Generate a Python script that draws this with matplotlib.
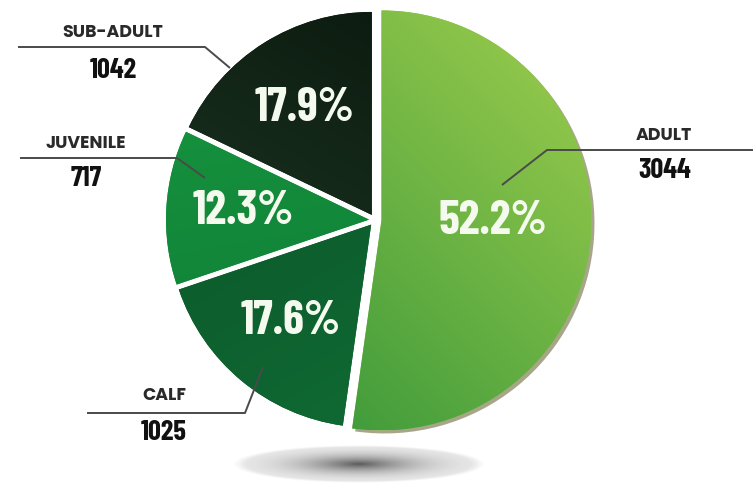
import numpy as np
import matplotlib
matplotlib.use("Agg")
import matplotlib.pyplot as plt
from matplotlib.patches import Wedge
from matplotlib.colors import to_rgb

# Population by age class
categories = ["ADULT", "CALF", "JUVENILE", "SUB-ADULT"]
counts = [3044, 1025, 717, 1042]

# Two-stop gradient for each slice (light end, dark end) and gradient direction (deg)
light_colors = ["#8ec54a", "#0b552a", "#17963f", "#0b1a0f"]
dark_colors = ["#3a983a", "#106b33", "#0e7a35", "#1e3824"]
grad_angles = [45, 120, 100, 60]

W, H = 753, 484
fig = plt.figure(figsize=(W / 100, H / 100), dpi=100)
ax = fig.add_axes([0, 0, 1, 1])


def py(y):
    """Convert a top-down pixel row into the axes' y coordinate."""
    return H - y


CENTER = (375, py(220))
R = 203

wedges, texts, autotexts = ax.pie(
    counts,
    explode=[6.5, 6, 6, 6],
    startangle=90,
    counterclock=False,
    radius=R,
    center=CENTER,
    colors=light_colors,
    autopct="%1.1f%%",
    pctdistance=0.65,
    wedgeprops=dict(linewidth=0),
    frame=False,
)

# The adult slice stands out a little further
wedges[0].set_radius(210)

# Tan rim under the adult slice
w0 = wedges[0]
rim = Wedge((w0.center[0] + 3, w0.center[1] - 3), w0.r, w0.theta1, w0.theta2,
            facecolor="#a7a68a", edgecolor="none", zorder=w0.get_zorder() - 0.5)
ax.add_patch(rim)

# Gradient fills clipped to each wedge
for w, c_light, c_dark, ang in zip(wedges, light_colors, dark_colors, grad_angles):
    cx, cy = w.center
    r = w.r
    n = 300
    xs = np.linspace(cx - r, cx + r, n)
    ys = np.linspace(cy - r, cy + r, n)
    X, Y = np.meshgrid(xs, ys)
    d = np.deg2rad(ang)
    t = ((X - cx) * np.cos(d) + (Y - cy) * np.sin(d)) / r
    t = np.clip((t + 1) / 2, 0, 1)[..., None]
    img = np.array(to_rgb(c_dark)) * (1 - t) + np.array(to_rgb(c_light)) * t
    im = ax.imshow(img, extent=[cx - r, cx + r, cy - r, cy + r], origin="lower",
                   zorder=w.get_zorder() + 0.1, interpolation="bilinear")
    im.set_clip_path(w)

# Percentage labels, placed along each slice's mid-angle from the pie centre
num_font = ["Barlow Condensed", "DejaVu Sans"]
for i, t in enumerate(autotexts):
    t.set_fontfamily(num_font)
    t.set_fontweight("bold")
    t.set_fontsize(34)
    t.set_color("#f4faee")
    t.set_zorder(10)
    w = wedges[i]
    mid = np.deg2rad((w.theta1 + w.theta2) / 2)
    dist = 0.65 * R if i else 0.53 * w.r
    base = CENTER if i else w.center
    t.set_position((base[0] + dist * np.cos(mid),
                    base[1] + dist * np.sin(mid) + (7 if i == 0 else 0)))

# Callout labels: (name-label centre, number centre, leader polyline)
callouts = {
    "SUB-ADULT": ((113, 33), (113, 71), [(18, 47), (205, 47), (230, 68)]),
    "JUVENILE": ((86, 144), (86, 179), [(20, 158), (177, 158), (205, 178)]),
    "ADULT": ((664, 136), (665, 171), [(753, 150), (547, 150), (502, 185)]),
    "CALF": ((164, 396), (164, 432), [(87, 413), (245, 413), (263, 367)]),
}
for name, n in zip(categories, counts):
    (lx, ly), (nx, ny), pts = callouts[name]
    xs = [p[0] for p in pts]
    ys = [py(p[1]) for p in pts]
    ax.plot(xs, ys, color="#4a4a4a", lw=1.4, zorder=9, solid_capstyle="butt")
    ax.text(lx, py(ly), name, ha="center", va="center", fontsize=12.5,
            fontweight="bold", family=["Poppins", "Montserrat", "Open Sans", "DejaVu Sans"],
            color="#2a2a2a", zorder=10)
    ax.text(nx, py(ny), f"{n}", ha="center", va="center", fontsize=20.5,
            fontweight="bold", family=num_font, color="#111111", zorder=10)

# Soft ground shadow under the chart
sx, sy, sw, sh = 359, py(464), 126, 19
gx = np.linspace(-1, 1, 400)
gy = np.linspace(-1, 1, 80)
GX, GY = np.meshgrid(gx, gy)
rr = np.sqrt(GX ** 2 + GY ** 2)
alpha = np.clip(1 - rr, 0, 1)
alpha = 0.10 * np.clip((1 - rr) * 10, 0, 1) + 0.55 * alpha ** 2.0
shadow = np.zeros((80, 400, 4))
shadow[..., 3] = alpha
ax.imshow(shadow, extent=[sx - sw, sx + sw, sy - sh, sy + sh], origin="lower",
          zorder=0, interpolation="bilinear")

ax.set_xlim(0, W)
ax.set_ylim(0, H)
ax.set_aspect("equal")
ax.axis("off")

fig.savefig("out.png", dpi=100, facecolor="white")
